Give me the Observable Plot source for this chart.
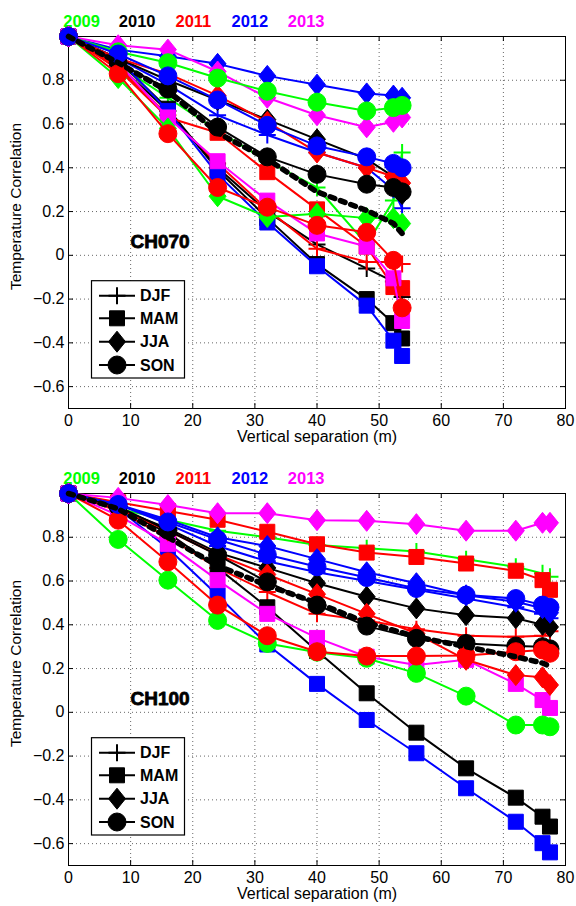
<!DOCTYPE html>
<html>
<head>
<meta charset="utf-8">
<script src="https://cdn.jsdelivr.net/npm/d3@7"></script>
<script src="https://cdn.jsdelivr.net/npm/@observablehq/plot@0.6"></script>
<style>
  html, body { margin: 0; padding: 0; background: #fff; overflow: hidden; }
  #wrap { position: relative; width: 576px; height: 906px; }
  .panel { position: absolute; left: 0; }
</style>
</head>
<body>
<div id="wrap"></div>
<script>
// ---------------- data ----------------
const years = ["2009", "2010", "2011", "2012", "2013"];
const yearColors = ["#00ff00", "#000000", "#ff0000", "#0000ff", "#ff00ff"];
const seasons = ["DJF", "MAM", "JJA", "SON"];
const xTicks = [0, 10, 20, 30, 40, 50, 60, 70, 80];
const yTicks = [-0.6, -0.4, -0.2, 0, 0.2, 0.4, 0.6, 0.8];
const panelTags = ["CH070", "CH100"];

// CH070: vertical separations (m)
const sep070 = [0, 8, 16, 24, 32, 40, 48, 52.3, 53.7];
// per season, one array per year (2009..2013), null = not shown
const ch070_DJF = [
  [1, 0.87, 0.72, 0.57, 0.43, 0.31, 0.05, 0.25, 0.47],
  [1, 0.87, 0.66, 0.40, 0.20, 0.05, -0.06, -0.12, -0.19],
  [1, 0.86, 0.64, 0.42, 0.21, 0.03, -0.03, -0.03, -0.04],
  [1, 0.90, 0.78, 0.64, 0.55, 0.47, 0.40, 0.30, 0.215],
  null
];
const ch070_MAM = [
  null,
  [1, 0.89, 0.67, 0.39, 0.17, -0.04, -0.20, -0.31, -0.38],
  [1, 0.85, 0.63, 0.56, 0.38, 0.21, 0.04, -0.145, -0.15],
  [1, 0.90, 0.66, 0.37, 0.15, -0.05, -0.23, -0.39, -0.46],
  [1, 0.88, 0.63, 0.43, 0.25, 0.10, 0.04, -0.105, -0.30]
];
const ch070_JJA = [
  [1, 0.81, 0.58, 0.27, 0.175, 0.19, 0.17, 0.17, 0.145],
  [1, 0.90, 0.80, 0.71, 0.62, 0.53, 0.44, 0.36, 0.28],
  [1, 0.90, 0.83, 0.73, 0.61, 0.47, 0.40, 0.36, 0.33],
  [1, 0.94, 0.91, 0.875, 0.82, 0.78, 0.74, 0.73, 0.72],
  [1, 0.96, 0.94, 0.84, 0.72, 0.64, 0.585, 0.61, 0.63]
];
const ch070_SON = [
  [1, 0.93, 0.88, 0.81, 0.75, 0.70, 0.66, 0.675, 0.685],
  [1, 0.88, 0.76, 0.586, 0.45, 0.37, 0.325, 0.31, 0.29],
  [1, 0.83, 0.556, 0.31, 0.22, 0.137, 0.105, -0.023, -0.24],
  [1, 0.92, 0.82, 0.71, 0.594, 0.50, 0.45, 0.42, 0.40],
  null
];
const ch070_mean = [1, 0.88, 0.75, 0.56, 0.44, 0.29, 0.205, 0.146, 0.10];

// CH100: vertical separations (m)
const sep100 = [0, 8, 16, 24, 32, 40, 48, 56, 64, 72, 76.3, 77.5];
const ch100_DJF = [
  [1, 0.93, 0.88, 0.83, 0.80, 0.765, 0.75, 0.735, 0.70, 0.665, 0.635, 0.62],
  null,
  [1, 0.92, 0.80, 0.66, 0.55, 0.45, 0.42, 0.38, 0.35, 0.345, 0.35, 0.37],
  [1, 0.95, 0.86, 0.76, 0.69, 0.64, 0.60, 0.56, 0.52, 0.48, 0.45, 0.43],
  null
];
const ch100_MAM = [
  null,
  [1, 0.93, 0.82, 0.66, 0.48, 0.28, 0.087, -0.093, -0.256, -0.39, -0.477, -0.522],
  [1, 0.96, 0.92, 0.88, 0.825, 0.768, 0.73, 0.71, 0.68, 0.647, 0.604, 0.56],
  [1, 0.93, 0.75, 0.535, 0.31, 0.13, -0.035, -0.187, -0.347, -0.50, -0.598, -0.64],
  [1, 0.90, 0.77, 0.604, 0.45, 0.34, 0.254, 0.216, 0.24, 0.13, 0.056, 0.02]
];
const ch100_JJA = [
  null,
  [1, 0.93, 0.84, 0.73, 0.66, 0.59, 0.528, 0.475, 0.444, 0.43, 0.40, 0.39],
  [1, 0.93, 0.83, 0.72, 0.63, 0.54, 0.45, 0.36, 0.24, 0.17, 0.16, 0.125],
  [1, 0.95, 0.88, 0.80, 0.76, 0.70, 0.64, 0.59, 0.535, 0.505, 0.476, 0.455],
  [1, 0.98, 0.947, 0.91, 0.91, 0.878, 0.875, 0.86, 0.83, 0.83, 0.866, 0.866]
];
const ch100_SON = [
  [1, 0.79, 0.604, 0.42, 0.315, 0.275, 0.247, 0.178, 0.074, -0.058, -0.058, -0.066],
  [1, 0.94, 0.832, 0.718, 0.596, 0.49, 0.394, 0.338, 0.315, 0.303, 0.30, 0.29],
  [1, 0.878, 0.688, 0.49, 0.35, 0.277, 0.257, 0.257, 0.26, 0.277, 0.285, 0.27],
  [1, 0.95, 0.87, 0.79, 0.72, 0.665, 0.616, 0.566, 0.536, 0.52, 0.49, 0.48],
  null
];
const ch100_mean = [1, 0.93, 0.80, 0.67, 0.58, 0.50, 0.41, 0.345, 0.30, 0.254, 0.225, 0.21];

// ---------------- markers (MATLAB style) ----------------
const plusSym = { draw(c) { const s = 8.5; c.moveTo(-s, 0); c.lineTo(s, 0); c.moveTo(0, -s); c.lineTo(0, s); } };
const squareSym = { draw(c) { const s = 7.5; c.moveTo(-s, -s); c.lineTo(s, -s); c.lineTo(s, s); c.lineTo(-s, s); c.closePath(); } };
const diamondSym = { draw(c) { const w = 8.5, h = 10.5; c.moveTo(0, -h); c.lineTo(w, 0); c.lineTo(0, h); c.lineTo(-w, 0); c.closePath(); } };
const circleSym = { draw(c) { const r = 9; c.moveTo(r, 0); c.arc(0, 0, r, 0, 2 * Math.PI); } };
const seasonSymbols = [plusSym, squareSym, diamondSym, circleSym];

const FONT = "'Liberation Sans', Arial, Helvetica, sans-serif";
const fmt = d => d === 0 ? "0" : d.toFixed(1).replace("-", "\u2212");

function rowsOf(sep, vals) {
  return sep.map((x, i) => ({ x, y: vals[i] })).filter(d => d.y != null);
}

function buildPanel(sep, bySeason, mean, tag, height, marginBottom) {
  const marginTop = 36, marginLeft = 68, marginRight = 11;
  const plotH = height - marginTop - marginBottom;
  const plotW = 576 - marginLeft - marginRight;
  const ky = 5 * 1.7 / plotH;  // 5px inside tick length in y units
  const kx = 5 * 80 / plotW;   // 5px inside tick length in x units
  const grid = { stroke: "#000", strokeOpacity: 0.6, strokeDasharray: "1,3", strokeWidth: 1 };
  const marks = [
    Plot.gridX(xTicks, grid),
    Plot.gridY(yTicks, grid),
    Plot.ruleX(xTicks, { y1: -0.7, y2: -0.7 + ky, stroke: "#000" }),
    Plot.ruleX(xTicks, { y1: 1.0, y2: 1.0 - ky, stroke: "#000" }),
    Plot.ruleY(yTicks, { x1: 0, x2: kx, stroke: "#000" }),
    Plot.ruleY(yTicks, { x1: 80, x2: 80 - kx, stroke: "#000" }),
    Plot.frame({ stroke: "#000", strokeWidth: 1 }),
    Plot.axisX(xTicks, { anchor: "bottom", tickSize: 0, tickPadding: 6, label: null, fontSize: 16 }),
    Plot.axisY(yTicks, { anchor: "left", tickSize: 0, tickPadding: 4, tickFormat: fmt, label: null, fontSize: 16 }),
    Plot.text(["Vertical separation (m)"], { frameAnchor: "bottom", dy: 33, textAnchor: "middle", fontSize: 16, fill: "#000" }),
    Plot.text(["Temperature Correlation"], { frameAnchor: "left", dx: -52, dy: -16, textAnchor: "middle", rotate: -90, fontSize: 15.5, fill: "#000" })
  ];
  // year colour legend above the axes
  const yearDx = [-5.3, 50.3, 107, 163, 219.3];
  years.forEach((yr, i) => {
    marks.push(Plot.text([yr], { frameAnchor: "top-left", dx: yearDx[i], dy: -21, textAnchor: "start",
      fill: yearColors[i], fontWeight: "bold", fontSize: 16.5 }));
  });
  // series, season-major drawing order
  seasons.forEach((s, si) => {
    bySeason[si].forEach((vals, yi) => {
      if (!vals) return;
      const rows = rowsOf(sep, vals);
      const c = yearColors[yi];
      marks.push(Plot.line(rows, { x: "x", y: "y", stroke: c, strokeWidth: 2 }));
      if (si === 0) {
        marks.push(Plot.dot(rows, { x: "x", y: "y", symbol: seasonSymbols[si], r: 9, fill: "none", stroke: c, strokeWidth: 2 }));
      } else {
        marks.push(Plot.dot(rows, { x: "x", y: "y", symbol: seasonSymbols[si], r: 9, fill: c, stroke: c, strokeWidth: 1 }));
      }
    });
  });
  // mean (thick dotted black)
  marks.push(Plot.line(rowsOf(sep, mean), { x: "x", y: "y", stroke: "#000", strokeWidth: 5.5, strokeDasharray: "5,6" }));
  // panel tag
  marks.push(Plot.text([tag], { frameAnchor: "top-left", dx: 62, dy: 198, textAnchor: "start",
    fontWeight: "bold", fontSize: 19, fill: "#000", stroke: "#000", strokeWidth: 0.8 }));

  const svg = Plot.plot({
    width: 576, height, marginTop, marginLeft, marginRight, marginBottom,
    x: { domain: [0, 80] },
    y: { domain: [-0.7, 1.0] },
    style: { fontFamily: FONT, fontSize: "16px", color: "#000", background: "#fff", overflow: "visible" },
    marks
  });

  // season legend box
  const g = d3.select(svg).append("g").attr("text-anchor", "start");
  const boxTop = marginTop + 244.7;
  g.append("rect").attr("x", 91.5).attr("y", boxTop).attr("width", 93).attr("height", 97.3)
    .attr("fill", "#fff").attr("stroke", "#000").attr("stroke-width", 1.2);
  const ys = [259.7, 282.3, 305.7, 329];
  seasons.forEach((s, i) => {
    const y = marginTop + ys[i];
    g.append("line").attr("x1", 99).attr("x2", 135).attr("y1", y).attr("y2", y)
      .attr("stroke", "#000").attr("stroke-width", 2);
    g.append("path").attr("d", d3.symbol(seasonSymbols[i])())
      .attr("transform", `translate(117,${y})`)
      .attr("fill", i === 0 ? "none" : "#000").attr("stroke", "#000").attr("stroke-width", i === 0 ? 2 : 1);
    g.append("text").attr("x", 140).attr("y", y).attr("dy", "0.36em").attr("text-anchor", "start")
      .attr("font-family", FONT).attr("font-weight", "bold").attr("font-size", 16).attr("fill", "#000")
      .text(s);
  });
  return svg;
}

const wrap = document.getElementById("wrap");
const p1 = buildPanel(sep070, [ch070_DJF, ch070_MAM, ch070_JJA, ch070_SON], ch070_mean, panelTags[0], 453, 45);
p1.classList.add("panel"); p1.style.top = "0px";
wrap.appendChild(p1);
const p2 = buildPanel(sep100, [ch100_DJF, ch100_MAM, ch100_JJA, ch100_SON], ch100_mean, panelTags[1], 449, 41);
p2.classList.add("panel"); p2.style.top = "457px";
wrap.appendChild(p2);
</script>
</body>
</html>
